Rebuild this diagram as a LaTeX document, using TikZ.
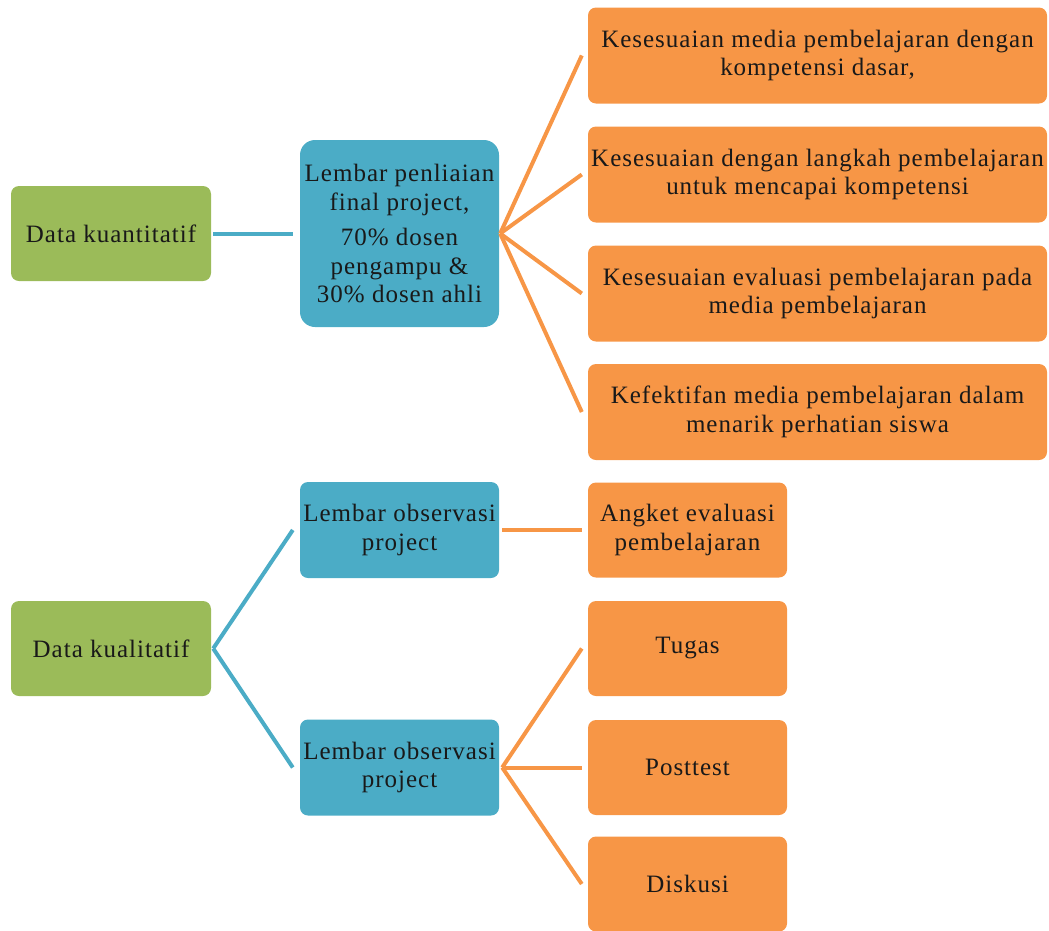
\documentclass[tikz,border=0pt]{standalone}
\usepackage{fontspec}
\setmainfont[LetterSpace=4]{Liberation Serif}
\definecolor{hijau}{HTML}{9BBB59}
\definecolor{biru}{HTML}{4BACC6}
\definecolor{oranye}{HTML}{F79646}
\begin{document}
\begin{tikzpicture}[x=1pt, y=-1pt,
    kotak/.style={rounded corners=8pt, align=center, inner sep=2pt,
        font=\fontsize{25}{28.5}\selectfont, text=black!90},
    hijaubox/.style={kotak, fill=hijau, minimum width=200pt, minimum height=95pt},
    birubox/.style={kotak, fill=biru, minimum width=199pt, minimum height=96pt},
    oranyebox/.style={kotak, fill=oranye, minimum width=199pt, minimum height=95pt},
    lebarbox/.style={oranyebox, minimum width=459pt, minimum height=96pt},
    garisbiru/.style={draw=biru, line width=4pt},
    garisoranye/.style={draw=oranye, line width=4pt}]
    % Ukuran gambar: 1049 x 930 (satuan pt = piksel)
    \useasboundingbox (0,0) rectangle (1049,930);

    % Bagian atas: data kuantitatif
    \node[hijaubox] (kuantitatif) at (111, 233.5) {Data kuantitatif};
    \node[birubox, minimum height=187pt, rounded corners=15pt] (penilaian) at (399.5, 233.5)
        {Lembar penliaian\\final project,\\[7pt]70\% dosen\\pengampu \&\\30\% dosen ahli};

    % Kriteria penilaian
    \node[lebarbox] (kriteria1) at (817.5, 55.5)
        {Kesesuaian media pembelajaran dengan\\kompetensi dasar,};
    \node[lebarbox] (kriteria2) at (817.5, 174.5)
        {Kesesuaian dengan langkah pembelajaran\\untuk mencapai kompetensi};
    \node[lebarbox] (kriteria3) at (817.5, 293.5)
        {Kesesuaian evaluasi pembelajaran pada\\media pembelajaran};
    \node[lebarbox] (kriteria4) at (817.5, 412)
        {Kefektifan media pembelajaran dalam\\menarik perhatian siswa};

    % Bagian bawah: data kualitatif
    \node[hijaubox] (kualitatif) at (111, 648.5) {Data kualitatif};
    \node[birubox] (observasi1) at (399.5, 530) {Lembar observasi\\project};
    \node[birubox] (observasi2) at (399.5, 767.5) {Lembar observasi\\project};

    \node[oranyebox] (angket) at (687.5, 530) {Angket evaluasi\\pembelajaran};
    \node[oranyebox] (tugas) at (687.5, 648.5) {Tugas};
    \node[oranyebox] (posttest) at (687.5, 767.5) {Posttest};
    \node[oranyebox] (diskusi) at (687.5, 884) {Diskusi};

    % Garis penghubung
    \draw[garisbiru] ([xshift=2pt]kuantitatif.east) -- ([xshift=-7pt]penilaian.west);
    \foreach \k in {kriteria1, kriteria2, kriteria3, kriteria4}
        \draw[garisoranye] ([xshift=1pt]penilaian.east) -- ([xshift=-6pt]\k.west);

    \draw[garisbiru] ([xshift=2pt]kualitatif.east) -- ([xshift=-7pt]observasi1.west);
    \draw[garisbiru] ([xshift=2pt]kualitatif.east) -- ([xshift=-7pt]observasi2.west);
    \draw[garisoranye] ([xshift=3pt]observasi1.east) -- ([xshift=-6pt]angket.west);
    \foreach \k in {tugas, posttest, diskusi}
        \draw[garisoranye] ([xshift=3pt]observasi2.east) -- ([xshift=-6pt]\k.west);

\end{tikzpicture}
\end{document}
